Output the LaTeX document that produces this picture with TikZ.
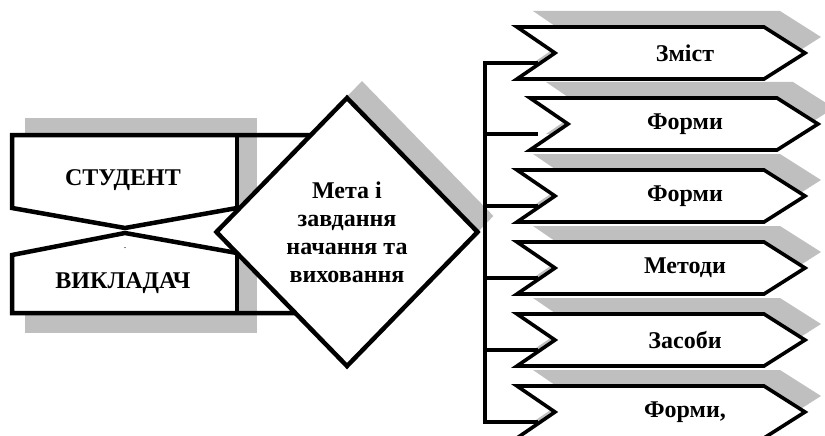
\documentclass[tikz,border=0pt]{standalone}
\usepackage{fontspec}
\setmainfont{Liberation Serif}
\usetikzlibrary{shapes.geometric}

\begin{document}
\begin{tikzpicture}[x=1pt,y=-1pt,
  thickline/.style={line width=4.5pt},
  bus/.style={line width=3.2pt},
  arrowbox/.style={draw,line width=3.6pt,fill=white},
  grayshadow/.style={fill=black,fill opacity=0.25},
  bigtext/.style={font=\fontsize{24}{28}\selectfont\bfseries,align=center,inner sep=0pt}]
\useasboundingbox (0,0) rectangle (825,436);

% shadows behind the left block and the diamond
\fill[grayshadow] (25,118) rectangle (257,333);
\node[diamond,grayshadow,minimum width=263pt,minimum height=270pt,inner sep=0pt] (goalshadow) at (362,216) {};

% left block
\fill[white] (12,135) rectangle (237,313);
\draw[thickline] (330,135) -- (12,135) -- (12,208) -- (125,228) -- (237,208);
\draw[thickline] (237,253) -- (125,233) -- (12,255) -- (12,313) -- (330,313);
\draw[thickline] (237,135) -- (237,313);
\node[bigtext] (student) at (123,180) {СТУДЕНТ};
\node[bigtext] (teacher) at (123,283) {ВИКЛАДАЧ};
\node[font=\fontsize{10}{12}\selectfont,inner sep=0pt] (dot) at (125,248) {.};

% diamond in the middle
\node[diamond,draw,thickline,fill=white,minimum width=263pt,minimum height=270pt,bigtext] (goal) at (347,232)
  {Мета і\\ завдання\\ начання та\\ виховання};

% arrows on the right
\foreach \i/\y/\dx/\txt in {1/53/0/Зміст, 2/124/13/Форми, 3/196/0/Форми, 4/268/0/Методи, 5/340/0/Засоби, 6/412/0/{Форми,}}
{
  \fill[grayshadow,xshift=16pt,yshift=16pt] (517+\dx,\y-26) -- (764+\dx,\y-26) -- (805+\dx,\y)
    -- (764+\dx,\y+26) -- (517+\dx,\y+26) -- (555+\dx,\y) -- cycle;
  \draw[arrowbox] (517+\dx,\y-26) -- (764+\dx,\y-26) -- (805+\dx,\y)
    -- (764+\dx,\y+26) -- (517+\dx,\y+26) -- (555+\dx,\y) -- cycle;
  \node[bigtext] (arrow\i) at (685,\y) {\txt};
  \coordinate (bus\i) at (485,\y+10);
  \coordinate (tick\i) at (538,\y+10);
}

% bracket joining the arrows
\draw[bus] (tick1) -- (bus1) -- (bus6) -- (tick6);
\foreach \i in {2,...,5}
  \draw[bus] (bus\i) -- (tick\i);

\end{tikzpicture}
\end{document}
